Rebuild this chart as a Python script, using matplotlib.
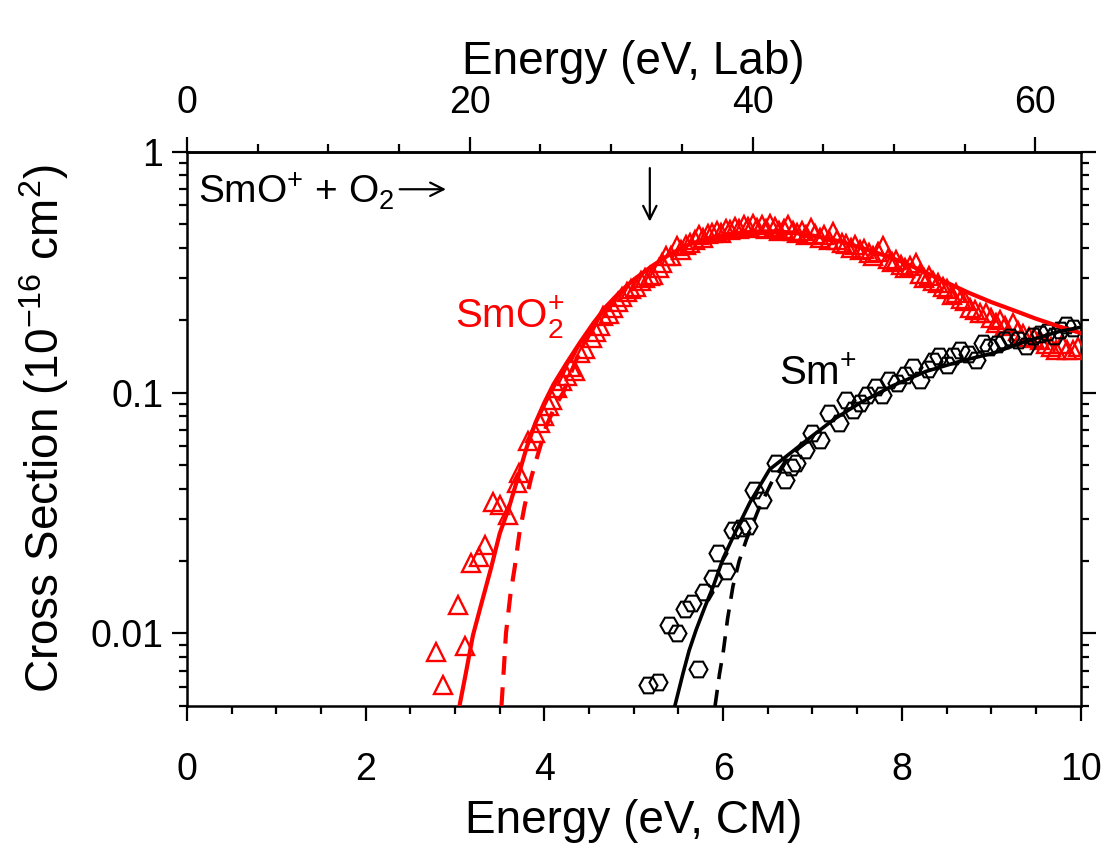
import matplotlib
matplotlib.use("Agg")
import matplotlib.pyplot as plt
from matplotlib.ticker import MultipleLocator, LogLocator, NullFormatter, FixedLocator, FixedFormatter

plt.rcParams['font.family'] = ['Liberation Sans', 'DejaVu Sans']
plt.rcParams['mathtext.fontset'] = 'custom'
plt.rcParams['mathtext.rm'] = 'Liberation Sans'
plt.rcParams['mathtext.it'] = 'Liberation Sans'

# ---------------- data ----------------
smo2_x = [2.79, 2.87, 3.03, 3.11, 3.18, 3.27, 3.34, 3.42, 3.50, 3.59, 3.69, 3.72, 3.82, 3.89,
          3.95, 4.00, 4.05, 4.08, 4.14, 4.20, 4.25, 4.30, 4.34, 4.40, 4.46, 4.53, 4.58, 4.62,
          4.66, 4.72, 4.77, 4.82, 4.87, 4.92, 4.97, 5.03, 5.08, 5.13, 5.18, 5.22, 5.28, 5.32,
          5.36, 5.42, 5.48, 5.53, 5.58, 5.63, 5.68, 5.73, 5.78, 5.83, 5.88, 5.93, 5.98, 6.03,
          6.08, 6.13, 6.18, 6.23, 6.28, 6.33, 6.38, 6.43, 6.48, 6.53, 6.58, 6.63, 6.68, 6.73,
          6.78, 6.83, 6.88, 6.93, 6.98, 7.03, 7.08, 7.13, 7.18, 7.23, 7.28, 7.33, 7.38, 7.43,
          7.48, 7.53, 7.58, 7.63, 7.68, 7.73, 7.79, 7.84, 7.89, 7.94, 7.99, 8.04, 8.09, 8.16,
          8.20, 8.25, 8.30, 8.35, 8.40, 8.46, 8.51, 8.56, 8.61, 8.66, 8.71, 8.76, 8.82, 8.87,
          8.94, 9.00, 9.05, 9.10, 9.16, 9.24, 9.30, 9.36, 9.42, 9.48, 9.55, 9.61, 9.67, 9.73,
          9.79, 9.85, 9.91, 9.97]
smo2_y = [0.0084, 0.0061, 0.0131, 0.0089, 0.0197, 0.0208, 0.0234, 0.0350, 0.0343, 0.0312, 0.0422,
          0.0464, 0.0628, 0.0680, 0.0750, 0.0797, 0.0880, 0.0935, 0.1046, 0.1120, 0.1170, 0.1280,
          0.1226, 0.1460, 0.1520, 0.1687, 0.1780, 0.1900, 0.2074, 0.2120, 0.2246, 0.2380, 0.2500,
          0.2630, 0.2700, 0.2760, 0.2900, 0.3000, 0.3050, 0.3090, 0.3300, 0.3450, 0.3680, 0.3700,
          0.4050, 0.3900, 0.4100, 0.4200, 0.4300, 0.4500, 0.4400, 0.4550, 0.4600, 0.4700, 0.4600,
          0.4800, 0.4750, 0.4900, 0.4800, 0.4950, 0.4900, 0.5000, 0.4850, 0.4950, 0.4800, 0.5000,
          0.4900, 0.4700, 0.4800, 0.4950, 0.4700, 0.4600, 0.4700, 0.4500, 0.4830, 0.4550, 0.4400,
          0.4500, 0.4300, 0.4670, 0.4300, 0.4200, 0.4150, 0.4000, 0.4100, 0.3900, 0.3950, 0.3800,
          0.3700, 0.3850, 0.4050, 0.3600, 0.3500, 0.3550, 0.3400, 0.3300, 0.3350, 0.3450, 0.3100,
          0.3000, 0.3050, 0.2900, 0.2850, 0.2750, 0.2700, 0.2550, 0.2600, 0.2450, 0.2400, 0.2250,
          0.2200, 0.2150, 0.2140, 0.2050, 0.1950, 0.2000, 0.1900, 0.1950, 0.1800, 0.1750, 0.1700,
          0.1680, 0.1650, 0.1600, 0.1550, 0.1510, 0.1600, 0.1500, 0.1510, 0.1550]

sm_x = [5.16, 5.27, 5.72, 5.40, 5.48, 5.57, 5.65, 5.79, 5.89, 6.03, 5.94, 6.11, 6.20, 6.28,
        6.35, 6.43, 6.59, 6.69, 6.76, 6.82, 6.92, 7.00, 7.08, 7.19, 7.30, 7.38, 7.45, 7.53,
        7.61, 7.71, 7.78, 7.86, 7.95, 8.04, 8.12, 8.20, 8.29, 8.35, 8.42, 8.50, 8.57, 8.65,
        8.74, 8.83, 8.91, 8.98, 9.06, 9.14, 9.21, 9.30, 9.39, 9.47, 9.55, 9.63, 9.70, 9.77,
        9.84, 9.92]
sm_y = [0.0061, 0.0063, 0.0071, 0.0108, 0.0100, 0.0126, 0.0134, 0.0148, 0.0170, 0.0181, 0.0216,
        0.0270, 0.0275, 0.0279, 0.0396, 0.0360, 0.0510, 0.0436, 0.0490, 0.0510, 0.0580, 0.0680,
        0.0638, 0.0824, 0.0749, 0.0935, 0.0850, 0.0906, 0.0980, 0.1060, 0.0980, 0.1130, 0.1100,
        0.1180, 0.1285, 0.1130, 0.1250, 0.1350, 0.1415, 0.1300, 0.1415, 0.1510, 0.1450, 0.1370,
        0.1607, 0.1550, 0.1600, 0.1650, 0.1710, 0.1650, 0.1560, 0.1720, 0.1750, 0.1780, 0.1720,
        0.1820, 0.1910, 0.1850]

# fitted model curves
fit_smo2_x = [3.05, 3.12, 3.20, 3.30, 3.40, 3.50, 3.60, 3.70, 3.80, 3.90, 4.00, 4.10, 4.25,
              4.40, 4.55, 4.70, 4.85, 5.00, 5.20, 5.40, 5.60, 5.80, 6.00, 6.20, 6.40, 6.60,
              6.80, 7.00, 7.25, 7.50, 7.75, 8.00, 8.25, 8.50, 8.75, 9.00, 9.25, 9.50, 9.75, 10.0]
fit_smo2_y = [0.0050, 0.0068, 0.0098, 0.0135, 0.0185, 0.0260, 0.0330, 0.0440, 0.0590, 0.0750,
              0.0910, 0.1080, 0.1330, 0.1620, 0.1950, 0.2300, 0.2630, 0.2950, 0.3350, 0.3750,
              0.4100, 0.4350, 0.4520, 0.4630, 0.4680, 0.4680, 0.4620, 0.4500, 0.4300, 0.4050,
              0.3780, 0.3500, 0.3180, 0.2870, 0.2600, 0.2380, 0.2200, 0.2030, 0.1890, 0.1770]
fit0_smo2_x = [3.52, 3.55, 3.57, 3.62, 3.67, 3.72, 3.78, 3.85, 3.91, 4.02, 4.12, 4.21, 4.35,
               4.50, 4.70]
fit0_smo2_y = [0.0050, 0.0075, 0.0100, 0.0145, 0.0190, 0.0260, 0.0340, 0.0440, 0.0527, 0.0725,
               0.0880, 0.1000, 0.1350, 0.1800, 0.2300]

fit_sm_x = [5.46, 5.55, 5.62, 5.70, 5.80, 5.89, 6.00, 6.15, 6.30, 6.52, 6.75, 6.97, 7.25,
            7.53, 7.90, 8.27, 8.65, 9.02, 9.40, 9.77, 10.0]
fit_sm_y = [0.0050, 0.0068, 0.0085, 0.0104, 0.0130, 0.0157, 0.0205, 0.0270, 0.0350, 0.0480,
            0.0560, 0.0650, 0.0780, 0.0906, 0.1070, 0.1226, 0.1350, 0.1460, 0.1640, 0.1800,
            0.1870]
fit0_sm_x = [5.91, 5.96, 6.00, 6.05, 6.11, 6.18, 6.26, 6.40, 6.55, 6.70, 6.85, 7.00]
fit0_sm_y = [0.0050, 0.0068, 0.0083, 0.0115, 0.0157, 0.0200, 0.0245, 0.0330, 0.0430, 0.0520,
             0.0590, 0.0650]

lab_factor = 6.32          # E_lab = E_CM * (m_SmO+ + m_O2)/m_O2
arrow_x = 5.18             # threshold marker position (eV, CM)

x_ticks = [0, 2, 4, 6, 8, 10]
y_ticks = [0.01, 0.1, 1]
y_ticklabels = ['0.01', '0.1', '1']
lab_ticks = [0, 20, 40, 60]

# ---------------- plot ----------------
fig = plt.figure(figsize=(11.06, 8.48), dpi=100)
ax = fig.add_axes([0.169, 0.1675, 0.808, 0.6533])

red = '#ff0000'
ax.plot(smo2_x, smo2_y, linestyle='none', marker='^', ms=13, mfc='none', mec=red, mew=1.7, zorder=3)
ax.plot(sm_x, sm_y, linestyle='none', marker='H', ms=13, mfc='none', mec='black', mew=1.5, zorder=3)

ax.plot(fit_smo2_x, fit_smo2_y, color=red, lw=3.0, zorder=4)
ax.plot(fit0_smo2_x, fit0_smo2_y, color=red, lw=3.0, ls=(0, (4.5, 3)), zorder=4)
ax.plot(fit_sm_x, fit_sm_y, color='black', lw=2.6, zorder=4)
ax.plot(fit0_sm_x, fit0_sm_y, color='black', lw=2.6, ls=(0, (4.5, 3)), zorder=4)

ax.set_yscale('log')
ax.set_xlim(0, 10)
ax.set_ylim(0.005, 1)

ax.xaxis.set_major_locator(FixedLocator(x_ticks))
ax.xaxis.set_minor_locator(MultipleLocator(0.5))
ax.yaxis.set_major_locator(FixedLocator(y_ticks))
ax.yaxis.set_major_formatter(FixedFormatter(y_ticklabels))
ax.yaxis.set_minor_locator(LogLocator(base=10, subs=range(2, 10)))
ax.yaxis.set_minor_formatter(NullFormatter())

ax.tick_params(which='both', direction='out', width=1.6, labelsize=27,
               bottom=True, top=False, left=True, right=True)
ax.tick_params(which='major', length=11)
ax.tick_params(which='minor', length=6)
ax.tick_params(axis='x', which='both', pad=22)
ax.tick_params(axis='y', which='both', pad=6)
for s in ax.spines.values():
    s.set_linewidth(1.8)

ax.set_xlabel('Energy (eV, CM)', fontsize=33, labelpad=8)
ax.set_ylabel('Cross Section (10$^{-16}$ cm$^2$)', fontsize=33, labelpad=14)

sec = ax.secondary_xaxis('top', functions=(lambda e: e * lab_factor, lambda e: e / lab_factor))
sec.xaxis.set_major_locator(FixedLocator(lab_ticks))
sec.xaxis.set_minor_locator(MultipleLocator(5))
sec.tick_params(which='both', direction='out', width=1.6, labelsize=27, pad=11)
sec.tick_params(which='major', length=11)
sec.tick_params(which='minor', length=6)
sec.spines['top'].set_linewidth(1.8)
sec.set_xlabel('Energy (eV, Lab)', fontsize=33, labelpad=8)

# annotations
ax.text(0.12, 0.69, 'SmO$^{+}$ + O$_2$', fontsize=28, va='center', ha='left')
ax.annotate('', xy=(2.93, 0.70), xytext=(2.35, 0.70),
            arrowprops=dict(arrowstyle='->', lw=1.6, color='black', mutation_scale=24))
ax.annotate('', xy=(arrow_x, 0.5), xytext=(arrow_x, 0.88),
            arrowprops=dict(arrowstyle='->', lw=1.6, color='black', mutation_scale=24))
ax.text(3.0, 0.205, 'SmO$_2^{+}$', fontsize=29, color=red, ha='left', va='center')
ax.text(6.62, 0.12, 'Sm$^{+}$', fontsize=29, color='black', ha='left', va='center')

fig.savefig('out.png', dpi=100)
